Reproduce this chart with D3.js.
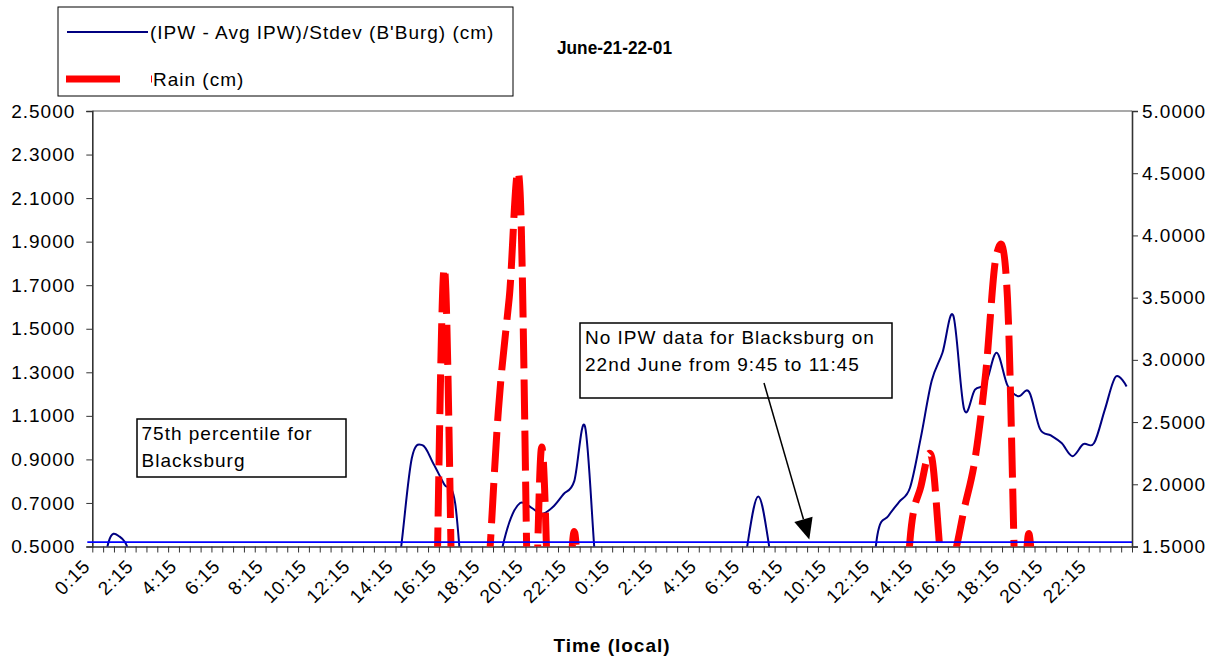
<!DOCTYPE html>
<html>
<head>
<meta charset="utf-8">
<script src="https://cdn.jsdelivr.net/npm/d3@7"></script>
<style>
  html, body { margin: 0; padding: 0; background: #fff; }
  svg { display: block; font-family: "Liberation Sans", Arial, Helvetica, sans-serif; }
</style>
</head>
<body>
<svg id="chart" width="1228" height="657"></svg>
<script>
// Half-hourly observation times, 21 and 22 June
const hours = ("0:15 0:45 1:15 1:45 2:15 2:45 3:15 3:45 4:15 4:45 5:15 5:45 " +
  "6:15 6:45 7:15 7:45 8:15 8:45 9:15 9:45 10:15 10:45 11:15 11:45 " +
  "12:15 12:45 13:15 13:45 14:15 14:45 15:15 15:45 16:15 16:45 17:15 17:45 " +
  "18:15 18:45 19:15 19:45 20:15 20:45 21:15 21:45 22:15 22:45 23:15 23:45").split(" ");
const times = hours.concat(hours);

// (IPW - Avg IPW)/Stdev for Blacksburg, left axis
const ipw = [
  0.2, 0.52, 0.546, 0.45, 0.1, 0, 0, 0, 0, 0, 0, 0,
  0, 0, 0, 0, 0, 0, 0, 0, 0, 0, 0, 0,
  0, 0, 0, 0.1, 0.49, 0.905, 0.965, 0.88, 0.785, 0.70, 0.15, 0,
  0.1, 0.41, 0.61, 0.70, 0.68, 0.65, 0.68, 0.74, 0.80, 1.05, 0.40, 0,
  0, 0, 0, 0, 0, 0, 0, 0, 0, 0, 0, 0.1,
  0.51, 0.73, 0.5, 0.1, 0, 0, 0, 0, 0, 0, 0, 0.1,
  0.555, 0.64, 0.705, 0.77, 1.00, 1.26, 1.39, 1.56, 1.13, 1.22, 1.25, 1.39,
  1.24, 1.19, 1.21, 1.04, 1.01, 0.975, 0.915, 0.97, 0.975, 1.13, 1.28, 1.235
];

// Rain (cm), right axis
const rain = [
  0, 0, 0, 0, 0, 0, 0, 0, 0, 0, 0, 0,
  0, 0, 0, 0, 0, 0, 0, 0, 0, 0, 0, 0,
  0, 0, 0, 0, 0, 0, 0, 0, 3.74, 0, 0, 0,
  1.16, 2.6, 3.5, 4.35, 0, 2.3, 0, 0, 1.62, 0, 0, 0,
  0, 0, 0, 0, 0, 0, 0, 0, 0, 0, 0, 0,
  0, 0, 0, 0, 0, 0, 0, 0, 0, 0, 0, 0,
  0, 0, 0, 1.55, 1.98, 2.22, 1.3, 1.4, 1.8, 2.2, 2.9, 3.85,
  3.5, 0.5, 1.6, 0, 0, 0, 0, 0, 0, 0, 0, 0
];

// 75th percentile of the normalised IPW for Blacksburg
const percentile75 = 0.52;

const leftTicks = [0.5, 0.7, 0.9, 1.1, 1.3, 1.5, 1.7, 1.9, 2.1, 2.3, 2.5];
const rightTicks = [1.5, 2.0, 2.5, 3.0, 3.5, 4.0, 4.5, 5.0];
const labelStep = 4; // a time label every two hours

const seriesNames = ["(IPW - Avg IPW)/Stdev (B'Burg) (cm)", "Rain (cm)"];
const chartTitle = "June-21-22-01";
const xTitle = "Time (local)";
const noteLow = ["75th percentile for", "Blacksburg"];
const noteGap = ["No IPW data for Blacksburg on", "22nd June from 9:45 to 11:45"];

const svg = d3.select("#chart");
const plot = { left: 92.3, right: 1132, top: 111, bottom: 546.5 };

const x = d3.scaleLinear().domain([0, times.length]).range([plot.left, plot.right]);
const yL = d3.scaleLinear().domain([0.5, 2.5]).range([plot.bottom, plot.top]);
const yR = d3.scaleLinear().domain([1.5, 5.0]).range([plot.bottom, plot.top]);

const fmt = d3.format(".4f");
const labelFont = "19px";
const spacing = "1px";

svg.append("defs").append("clipPath").attr("id", "plotClip")
  .append("rect")
  .attr("x", plot.left).attr("y", plot.top)
  .attr("width", plot.right - plot.left).attr("height", plot.bottom - plot.top);

// plot frame top edge
svg.append("line")
  .attr("x1", plot.left).attr("x2", plot.right)
  .attr("y1", plot.top).attr("y2", plot.top)
  .attr("stroke", "#8c8c8c").attr("stroke-width", 1.5);

// left axis
const gL = svg.append("g").attr("transform", `translate(${plot.left},0)`)
  .call(d3.axisLeft(yL).tickValues(leftTicks).tickFormat(fmt).tickSize(6).tickPadding(11));
// right axis
const gR = svg.append("g").attr("transform", `translate(${plot.right},0)`)
  .call(d3.axisRight(yR).tickValues(rightTicks).tickFormat(fmt).tickSize(6).tickPadding(4));
// bottom axis: a tick at every category boundary, no labels
const gB = svg.append("g").attr("transform", `translate(0,${plot.bottom})`)
  .call(d3.axisBottom(x).tickValues(d3.range(0, times.length + 1)).tickFormat("").tickSize(6).tickSizeOuter(0));

[gL, gR, gB].forEach(g => {
  g.select(".domain").attr("stroke", "#333").attr("stroke-width", 1.6);
  g.selectAll(".tick line").attr("stroke", "#333").attr("stroke-width", 1);
  g.selectAll(".tick text")
    .attr("fill", "#000")
    .style("font-size", labelFont)
    .style("letter-spacing", spacing)
    .style("font-family", '"Liberation Sans", Arial, sans-serif');
});

// rotated time labels
svg.append("g").selectAll("text")
  .data(times.map((t, i) => ({ t, i })).filter(d => d.i % labelStep === 0))
  .join("text")
  .attr("transform", d => `translate(${x(d.i + 0.5) - 11},${plot.bottom + 16}) rotate(-45)`)
  .attr("text-anchor", "end")
  .attr("dy", "0.35em")
  .style("font-size", labelFont)
  .style("letter-spacing", spacing)
  .text(d => d.t);

// axis title
svg.append("text")
  .attr("x", 612).attr("y", 652)
  .attr("text-anchor", "middle")
  .style("font-size", "19px").style("font-weight", "bold").style("letter-spacing", spacing)
  .text(xTitle);

// series
const series = svg.append("g").attr("clip-path", "url(#plotClip)");
const curve = d3.curveCardinal.tension(0);

series.append("path")
  .datum(ipw)
  .attr("fill", "none")
  .attr("stroke", "#000080")
  .attr("stroke-width", 2)
  .attr("d", d3.line().x((d, i) => x(i + 0.5)).y(d => yL(d)).curve(curve));

series.append("path")
  .datum(rain)
  .attr("fill", "none")
  .attr("stroke", "#ff0000")
  .attr("stroke-width", 7)
  .attr("stroke-dasharray", "40 11")
  .attr("d", d3.line().x((d, i) => x(i + 0.5)).y(d => yR(d)).curve(curve));

// 75th percentile reference line
svg.append("line")
  .attr("x1", plot.left - 5).attr("x2", plot.right)
  .attr("y1", yL(percentile75)).attr("y2", yL(percentile75))
  .attr("stroke", "#0000ff").attr("stroke-width", 1.8);

// legend
const legend = svg.append("g");
legend.append("rect")
  .attr("x", 58).attr("y", 7).attr("width", 455).attr("height", 89)
  .attr("fill", "#fff").attr("stroke", "#000").attr("stroke-width", 1);
legend.append("line")
  .attr("x1", 67).attr("x2", 148).attr("y1", 32).attr("y2", 32)
  .attr("stroke", "#000080").attr("stroke-width", 2);
legend.append("text")
  .attr("x", 150).attr("y", 32).attr("dy", "0.35em")
  .style("font-size", labelFont).style("letter-spacing", spacing)
  .text(seriesNames[0]);
legend.append("line")
  .attr("x1", 66).attr("x2", 152).attr("y1", 79).attr("y2", 79)
  .attr("stroke", "#ff0000").attr("stroke-width", 7)
  .attr("stroke-dasharray", "54 31");
legend.append("text")
  .attr("x", 153).attr("y", 79).attr("dy", "0.35em")
  .style("font-size", labelFont).style("letter-spacing", spacing)
  .text(seriesNames[1]);

// chart title
svg.append("text")
  .attr("x", 557).attr("y", 54)
  .attr("textLength", 115).attr("lengthAdjust", "spacingAndGlyphs")
  .style("font-size", "19px").style("font-weight", "bold")
  .text(chartTitle);

// text boxes
function note(lines, bx, by, bw, bh, tx, ty) {
  const g = svg.append("g");
  g.append("rect").attr("x", bx).attr("y", by).attr("width", bw).attr("height", bh)
    .attr("fill", "#fff").attr("stroke", "#000").attr("stroke-width", 1.5);
  lines.forEach((l, i) => {
    g.append("text").attr("x", tx).attr("y", ty + i * 26.5)
      .style("font-size", labelFont).style("letter-spacing", spacing)
      .text(l);
  });
}
note(noteLow, 137, 419, 209, 58, 141.5, 440);
note(noteGap, 580, 323, 312, 75, 585, 344);

// arrow pointing at the missing-data interval
const a0 = [764, 383], a1 = [809.3, 539.5];
const len = Math.hypot(a1[0] - a0[0], a1[1] - a0[1]);
const ux = (a1[0] - a0[0]) / len, uy = (a1[1] - a0[1]) / len;
const headL = 21, headW = 9.5;
const base = [a1[0] - ux * headL, a1[1] - uy * headL];
svg.append("line")
  .attr("x1", a0[0]).attr("y1", a0[1]).attr("x2", base[0]).attr("y2", base[1])
  .attr("stroke", "#000").attr("stroke-width", 1.5);
svg.append("path")
  .attr("d", d3.line()([
    a1,
    [base[0] - uy * headW, base[1] + ux * headW],
    [base[0] + uy * headW, base[1] - ux * headW]
  ]) + "Z")
  .attr("fill", "#000");
</script>
</body>
</html>
